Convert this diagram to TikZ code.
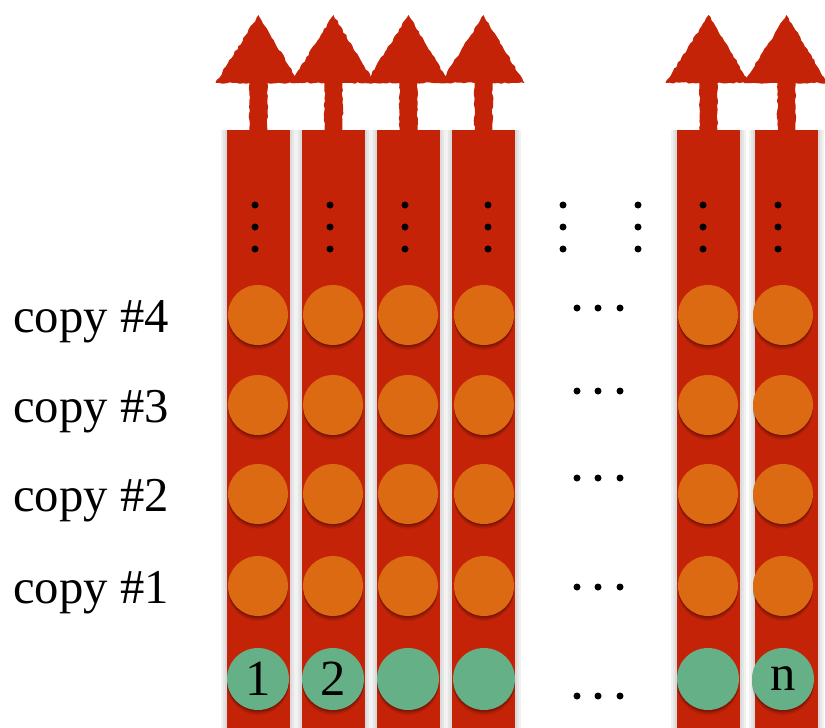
\documentclass[tikz,border=0pt]{standalone}
\usepackage{fontspec}
\setmainfont{Liberation Serif}
\usetikzlibrary{positioning}
\usetikzlibrary{shadows}
\usetikzlibrary{decorations.pathmorphing}

\definecolor{lanered}{HTML}{C52308}
\definecolor{cellorange}{HTML}{DC6A12}
\definecolor{inputgreen}{HTML}{66B088}

\begin{document}
\pgfmathsetseed{7}
\begin{tikzpicture}[x=0.75pt,y=-0.75pt,
                    lane/.style={rectangle,fill=lanered,inner sep=0pt,anchor=north,
                                 minimum width=47.25pt,minimum height=448.5pt},
                    cell/.style={circle,fill=cellorange,inner sep=0pt,minimum size=45pt,
                                 drop shadow={shadow xshift=0pt,shadow yshift=-1pt,opacity=0.15,fill=black},
                                 drop shadow={shadow xshift=0pt,shadow yshift=-2pt,opacity=0.15,fill=black},
                                 drop shadow={shadow xshift=0pt,shadow yshift=-3.5pt,opacity=0.12,fill=black}},
                    input/.style={cell,fill=inputgreen,minimum size=46.5pt,
                                  font=\fontsize{38}{38}\selectfont},
                    dot/.style={circle,fill=black,inner sep=0pt,minimum size=5.25pt},
                    copylabel/.style={anchor=base west,inner sep=0pt,
                                      font=\fontsize{36.5}{36.5}\selectfont},
                    uparrow/.style={fill=lanered,decorate,
                                    decoration={random steps,segment length=2.5pt,amplitude=0.6pt}}]
    \useasboundingbox (0,0) rectangle (825,728);
    % glow round the lanes
    \foreach \x in {258.5,333.5,408.5,483.5,708.5,786.5}
        \foreach \w in {2,4,6}
            \fill[black,opacity=0.05] (\x-31.5-\w,130) rectangle (\x+31.5+\w,728);
    % lanes and their arrows
    \foreach \x [count=\i] in {258.5,333.5,408.5,483.5,708.5,786.5} {
        \node[lane] (lane\i) at (\x,130) {};
        \fill[uparrow] (\x-9,131) -- (\x-9,83) -- (\x-43,83) -- (\x,15)
                       -- (\x+41,83) -- (\x+9,83) -- (\x+9,131) -- cycle;
    }
    % copies
    \foreach \x [count=\i] in {258,333,408,484,708,783}
        \foreach \y [count=\j] in {586,494,405,315}
            \node[cell] (cell-\j-\i) at (\x,\y) {};
    \foreach \x/\t [count=\i] in {258/1,333/2,408/{},484/{},708/{},783/n}
        \node[input] (in\i) at (\x,679) {\t};
    \foreach \y [count=\j] in {603,511,422,332}
        \node[copylabel] (copy\j) at (13,\y) {copy \#\j};
    % dots
    \foreach \x [count=\i] in {255,330,405,488,563,638,703,778}
        \foreach \y [count=\k] in {205,227,249}
            \node[dot] (vdot-\i-\k) at (\x,\y) {};
    \foreach \y [count=\j] in {308,391,478,587,696}
        \foreach \x [count=\k] in {577,598,620}
            \node[dot] (hdot-\j-\k) at (\x,\y) {};
\end{tikzpicture}
\end{document}
